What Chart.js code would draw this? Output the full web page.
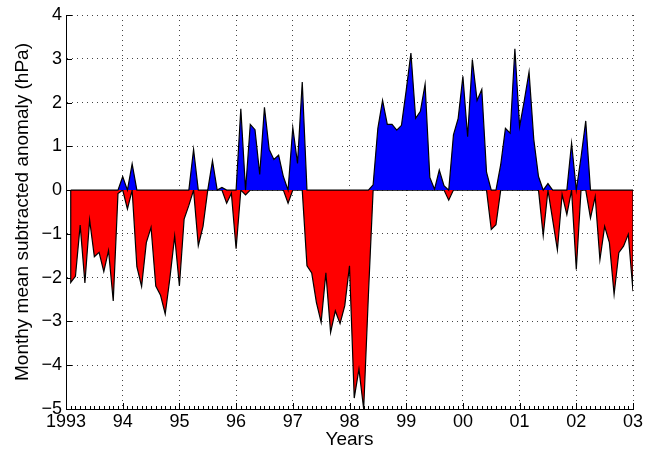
<!DOCTYPE html>
<html>
<head>
<meta charset="utf-8">
<script src="https://cdn.jsdelivr.net/npm/chart.js@4"></script>
<style>
  html, body { margin: 0; padding: 0; background: #fff; }
  #wrap { width: 647px; height: 452px; }
</style>
</head>
<body>
<div id="wrap"><canvas id="anomalyChart" width="647" height="452"></canvas></div>
<script>
// Monthly values, Feb 1993 .. Jan 2003 (hPa)
var START_YEAR = 1993;
var END_YEAR = 2003;
var anomaly = [
  -2.11, -1.97, -0.80, -2.12, -0.68, -1.52, -1.42, -1.86, -1.38, -2.53,
  -0.08,  0.31, -0.43,  0.60, -1.75, -2.20, -1.20, -0.85, -2.19, -2.40,
  -2.83, -2.00, -1.05, -2.19, -0.66, -0.35,  0.93, -1.27, -0.83,  0.00,
   0.67,  0.00,  0.06, -0.30, -0.07, -1.34,  1.86, -0.11,  1.50,  1.38,
   0.36,  1.89,  0.93,  0.70,  0.80,  0.31, -0.30,  1.43,  0.61,  2.47,
  -1.73, -1.89, -2.57, -3.02, -1.89, -3.25, -2.76, -3.05, -2.64, -1.73,
  -4.75, -4.09, -5.00, -2.40,  0.12,  1.41,  2.05,  1.50,  1.50,  1.37,
   1.48,  2.28,  3.13,  1.64,  1.80,  2.42,  0.29,  0.02,  0.46,  0.10,
  -0.23,  1.26,  1.64,  2.60,  1.22,  2.98,  2.05,  2.30,  0.41, -0.90,
  -0.79,  0.58,  1.41,  1.30,  3.23,  1.45,  2.05,  2.70,  1.16,  0.31,
  -1.04,  0.15, -0.68, -1.37, -0.10, -0.56,  1.07, -1.81,  0.75,  1.58,
  -0.64, -0.15, -1.59, -0.83, -1.20, -2.38, -1.43, -1.28, -1.01, -2.31
];
var yTicks = [-5, -4, -3, -2, -1, 0, 1, 2, 3, 4];
var xTickLabels = ['1993', '94', '95', '96', '97', '98', '99', '00', '01', '02', '03'];

var FONT = '"Liberation Sans", Arial, Helvetica, sans-serif';

// area polygon: baseline -> clipped values -> baseline
function areaPoints(clip) {
    var pts = anomaly.map(function(v, i) {
        return { x: START_YEAR + (i + 1) / 12, y: clip(v) };
    });
    pts.unshift({ x: pts[0].x, y: 0 });
    pts.push({ x: pts[pts.length - 1].x, y: 0 });
    return pts;
}

// inward major/minor ticks like the usual matlab axes
var inwardTicks = {
    id: 'inwardTicks',
    beforeDatasetsDraw: function(chart) {
        var ctx = chart.ctx, xs = chart.scales.x, ys = chart.scales.y;
        var area = chart.chartArea;
        ctx.save();
        ctx.strokeStyle = '#000';
        ctx.lineWidth = 1;
        ctx.beginPath();
        for (var m = 0; m <= (END_YEAR - START_YEAR) * 12; m++) {
            var px = Math.round(xs.getPixelForValue(START_YEAR + m / 12)) + 0.5;
            var len = (m % 12 === 0) ? 6 : 3;
            ctx.moveTo(px, area.bottom);
            ctx.lineTo(px, area.bottom - len);
        }
        yTicks.forEach(function(v) {
            var py = Math.round(ys.getPixelForValue(v)) + 0.5;
            ctx.moveTo(area.left, py);
            ctx.lineTo(area.left + 6, py);
        });
        ctx.stroke();
        ctx.restore();
    }
};

new Chart(document.getElementById('anomalyChart'), {
    type: 'line',
    data: {
        datasets: [
            {
                data: areaPoints(function(v) { return Math.max(v, 0); }),
                borderColor: '#000',
                borderWidth: 1.2,
                backgroundColor: '#0000ff',
                fill: 'origin',
                pointRadius: 0,
                tension: 0
            },
            {
                data: areaPoints(function(v) { return Math.min(v, 0); }),
                borderColor: '#000',
                borderWidth: 1.2,
                backgroundColor: '#ff0000',
                fill: 'origin',
                pointRadius: 0,
                tension: 0
            }
        ]
    },
    options: {
        responsive: false,
        animation: false,
        layout: { padding: { left: 0, top: 15, right: 14, bottom: 0 } },
        plugins: { legend: { display: false }, tooltip: { enabled: false } },
        scales: {
            x: {
                type: 'linear',
                min: START_YEAR,
                max: END_YEAR,
                afterFit: function(scale) { scale.height = 43; },
                afterBuildTicks: function(scale) {
                    scale.ticks = xTickLabels.map(function(l, i) { return { value: START_YEAR + i }; });
                },
                ticks: {
                    autoSkip: false,
                    maxRotation: 0,
                    padding: 2,
                    color: '#000',
                    font: { family: FONT, size: 18 },
                    callback: function(v) { return xTickLabels[Math.round(v - START_YEAR)]; }
                },
                grid: { color: '#444', lineWidth: 1, drawTicks: false },
                border: { display: true, color: '#000', width: 1, dash: [1, 4] },
                title: {
                    display: true,
                    text: 'Years',
                    color: '#000',
                    font: { family: FONT, size: 19 },
                    padding: { top: 0, bottom: 1 }
                }
            },
            y: {
                min: -5,
                max: 4,
                afterFit: function(scale) { scale.width = 66; },
                afterBuildTicks: function(scale) {
                    scale.ticks = yTicks.map(function(v) { return { value: v }; });
                },
                ticks: {
                    padding: 4,
                    color: '#000',
                    font: { family: FONT, size: 18 },
                    callback: function(v) { return v < 0 ? '\u2212' + Math.abs(v) : String(v); }
                },
                grid: { color: '#444', lineWidth: 1, drawTicks: false },
                border: { display: true, color: '#000', width: 1, dash: [1, 4] },
                title: {
                    display: true,
                    text: 'Monthy mean subtracted anomaly (hPa)',
                    color: '#000',
                    font: { family: FONT, size: 19 },
                    padding: { top: 11, bottom: 0 }
                }
            }
        }
    },
    plugins: [inwardTicks]
});
</script>
</body>
</html>
